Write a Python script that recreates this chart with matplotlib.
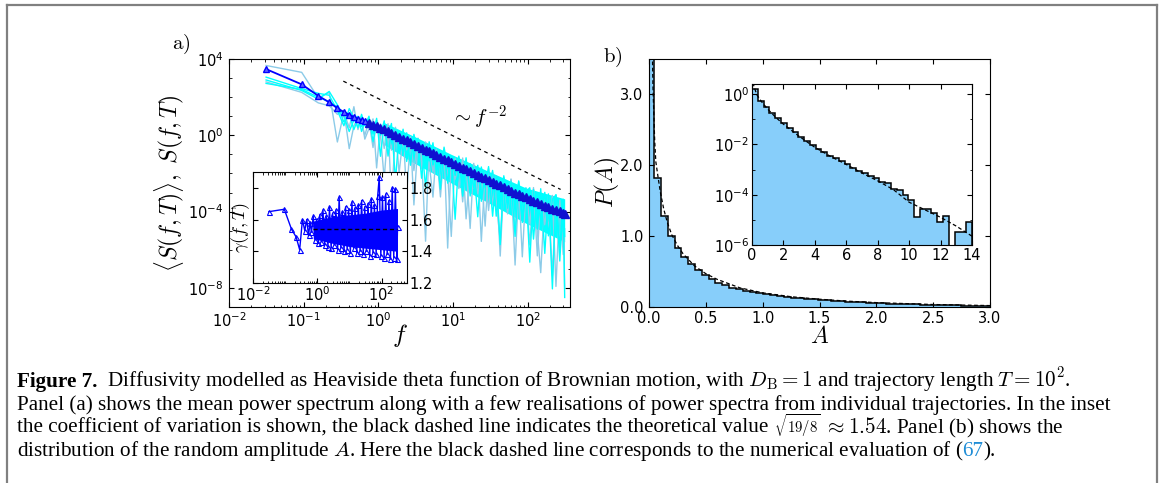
import numpy as np
import matplotlib
matplotlib.use('Agg')
import matplotlib.pyplot as plt
from matplotlib.lines import Line2D
from matplotlib.ticker import LogLocator, NullFormatter, FormatStrFormatter, FixedLocator

plt.rcParams['mathtext.fontset'] = 'cm'
plt.rcParams['xtick.direction'] = 'in'
plt.rcParams['ytick.direction'] = 'in'
plt.rcParams['xtick.top'] = True
plt.rcParams['ytick.right'] = True
plt.rcParams['xtick.major.size'] = 3.5
plt.rcParams['ytick.major.size'] = 3.5
plt.rcParams['xtick.minor.size'] = 1.8
plt.rcParams['ytick.minor.size'] = 1.8
plt.rcParams['font.size'] = 10.5

# ---------------- panel a: power spectra ----------------
f_grid = [0.0314, 0.0942, 0.157, 0.220, 0.283, 0.346, 0.408, 0.471, 0.534, 0.597, 0.660,
          0.75, 0.85, 0.95, 1.07, 1.2, 1.35, 1.5, 1.7, 1.9, 2.15,
          2.4, 2.7, 3.0, 3.4, 3.8, 4.3, 4.8, 5.4, 6.0, 6.8,
          7.6, 8.5, 9.5, 10.7, 12, 13.5, 15, 17, 19, 21.5,
          24, 27, 30, 34, 38, 43, 48, 54, 60, 68,
          76, 85, 95, 107, 120, 135, 150, 170, 190, 215,
          240, 270, 300, 314]
# log10 of the mean spectrum <S(f,T)>
mean_log10 = [3.47, 2.67, 2.07, 1.73, 1.42, 1.22, 1.08, 0.97, 0.88, 0.80, 0.73,
              0.65, 0.56, 0.49, 0.40, 0.31, 0.21, 0.12, 0.02, -0.08, -0.18,
              -0.27, -0.37, -0.45, -0.56, -0.65, -0.75, -0.84, -0.94, -1.03, -1.13,
              -1.22, -1.31, -1.40, -1.50, -1.59, -1.69, -1.78, -1.88, -1.97, -2.07,
              -2.16, -2.26, -2.34, -2.44, -2.54, -2.63, -2.72, -2.82, -2.90, -3.00,
              -3.09, -3.17, -3.26, -3.35, -3.44, -3.52, -3.60, -3.69, -3.77, -3.85,
              -3.92, -3.99, -4.05, -4.10]
n_low = 11
# single realisations, log10 S at the first 11 frequencies
real1_low = [3.66, 3.30, 1.95, 2.25, -0.35, 1.20, 0.40, 1.50, 0.30, 0.90, -0.20]
real2_low = [3.05, 2.45, 2.20, 2.10, 1.30, 0.50, 1.40, 0.90, 0.40, 1.10, 0.50]
real3_low = [2.90, 2.35, 1.90, 2.30, 1.60, 1.00, 0.20, 0.80, 1.00, 0.20, 0.70]
real4_low = [2.80, 2.25, 1.70, 1.55, 1.10, 1.30, -0.70, 0.50, 0.90, 0.60, 0.00]
real5_low = [2.72, 2.40, 2.00, 1.75, 1.50, 0.70, 1.10, 0.30, 0.85, 0.45, 0.75]
# dense part: deviation from the mean (decades)
real1_dev = [-0.3, 0.3, -2.2, 0.2, -1.0, 0.4, -3.5, 0.1, -0.6, 0.3,
             -2.8, 0.2, -1.4, 0.4, -0.5, -4.8, 0.3, -1.0, 0.2, -2.1,
             0.4, -0.7, -3.9, 0.3, -1.2, 0.5, -2.6, 0.2, -0.8, 0.4,
             -3.4, 0.3, -1.6, 0.5, -0.9, -2.9, 0.4, -1.3, 0.6, -3.8,
             0.3, -1.0, 0.5, -2.4, 0.6, -1.5, -3.6, 0.5, -1.1, 0.7,
             -4.0, 0.6, -2.2, -0.8]
real2_dev = [0.35, -0.9, 0.2, -0.4, 0.45, -1.3, 0.1, 0.3, -0.7, 0.5,
             -1.1, 0.2, -0.3, 0.4, -1.6, 0.3, -0.5, 0.55, -0.9, 0.1,
             0.45, -1.2, 0.3, -0.6, 0.5, -1.5, 0.2, 0.4, -0.8, 0.5,
             -1.3, 0.3, -0.4, 0.6, -1.7, 0.2, 0.5, -1.0, 0.4, -0.6,
             0.65, -1.4, 0.3, 0.6, -2.0, 0.4, -0.9, 0.7, -1.5, 0.5,
             0.8, -2.6, 0.6, -1.2]
real3_dev = [0.2, -0.5, 0.4, -1.5, 0.3, -0.2, 0.5, -2.4, 0.2, -0.8,
             0.4, -1.2, 0.5, -0.3, 0.3, -2.0, 0.5, -0.6, 0.2, -1.7,
             0.6, -0.4, 0.3, -2.9, 0.4, -0.9, 0.6, -1.3, 0.3, -2.2,
             0.5, -0.5, 0.7, -1.8, 0.4, -3.1, 0.6, -0.7, 0.5, -2.3,
             0.7, -1.1, 0.5, -3.3, 0.6, -1.4, 0.8, -2.5, 0.7, -4.2,
             0.8, -1.9, 0.7, -4.4]
real4_dev = [0.1, -1.2, 0.3, -0.4, -2.6, 0.2, -0.9, 0.4, -1.9, 0.1,
             -0.5, 0.3, -3.2, 0.2, -1.1, 0.4, -0.6, -2.3, 0.3, -1.4,
             0.5, -4.6, 0.2, -0.8, 0.4, -1.8, 0.3, -3.0, 0.5, -1.0,
             0.2, -2.5, 0.6, -1.2, 0.4, -3.7, 0.3, -0.9, 0.6, -2.0,
             0.5, -3.2, 0.4, -1.3, 0.7, -2.8, 0.5, -1.0, 0.6, -3.5,
             0.7, -1.6, 0.5, -3.9]
# densely overlapping realisations: band limits (log10)
f_band = [1.2, 3.0, 9.5, 30, 95, 314]
band_hi_log10 = [0.66, -0.05, -1.00, -1.89, -2.76, -3.33]
band_lo_log10 = [-0.49, -1.45, -2.50, -3.54, -4.61, -5.58]
# ~ f^-2 guide
f_guide = [0.34, 277]
S_guide = [690, 1.45e-3]

# inset a: coefficient of variation
gamma = [1.65, 1.665, 1.54, 1.49, 1.41, 1.60, 1.53, 1.60, 1.50, 1.58, 1.52,
         1.62, 1.47, 1.60, 1.45, 1.63, 1.46, 1.66, 1.44, 1.62, 1.43,
         1.68, 1.42, 1.64, 1.44, 1.66, 1.41, 1.74, 1.42, 1.65, 1.40,
         1.68, 1.41, 1.66, 1.39, 1.71, 1.42, 1.67, 1.39, 1.69, 1.40,
         1.72, 1.38, 1.68, 1.40, 1.70, 1.37, 1.73, 1.39, 1.69, 1.38,
         1.75, 1.87, 1.37, 1.74, 1.36, 1.76, 1.38, 1.72, 1.35, 1.80,
         1.36, 1.79, 1.35, 1.55]
# densely filled part of the inset
f_gband = [0.75, 3, 10, 30, 100, 314]
gband_lo = [1.48, 1.45, 1.43, 1.42, 1.41, 1.40]
gband_hi = [1.59, 1.62, 1.63, 1.64, 1.66, 1.67]
gamma_theory = 1.54
f_theory = [0.75, 300]

# ---------------- panel b: amplitude distribution ----------------
bin_start, bin_w = -0.015, 0.06
P_main = [4.6, 1.82, 1.28, 1.00, 0.83, 0.70, 0.61, 0.52, 0.45, 0.39,
          0.34, 0.305, 0.275, 0.25, 0.23, 0.212, 0.196, 0.182, 0.168, 0.155,
          0.144, 0.134, 0.125, 0.116, 0.112, 0.105, 0.097, 0.090, 0.083, 0.077,
          0.071, 0.066, 0.061, 0.057, 0.053, 0.049, 0.045, 0.042, 0.039, 0.036,
          0.033, 0.031, 0.029, 0.027, 0.025, 0.023, 0.021, 0.020, 0.018, 0.017,
          0.016]
A_curve = [0.012, 0.02, 0.025, 0.035, 0.05, 0.06, 0.08, 0.1, 0.13, 0.16, 0.2, 0.25,
           0.3, 0.4, 0.5, 0.6, 0.8, 1.0, 1.25, 1.5, 1.75, 2.0, 2.5, 3.0]
P_curve = [5.0, 4.3, 4.0, 3.1, 2.35, 2.05, 1.83, 1.62, 1.38, 1.2, 1.02, 0.87,
           0.75, 0.58, 0.47, 0.39, 0.27, 0.2, 0.145, 0.11, 0.082, 0.062, 0.035, 0.02]

in_bins, in_max = 38, 14.0
P_inset = [1.65, 0.52, 0.30, 0.18, 0.11, 0.068, 0.045, 0.030, 0.020, 0.0135,
           9.1e-3, 6.6e-3, 4.8e-3, 3.6e-3, 2.8e-3, 2.1e-3, 1.6e-3, 1.17e-3, 8.9e-4, 7.1e-4,
           5.6e-4, 4.4e-4, 3.3e-4, 2.8e-4, 1.66e-4, 1.58e-4, 9.5e-5, 6.0e-5, 1.26e-5, 2.8e-5,
           2.8e-5, 1.8e-5, 8e-6, 1.4e-5, 0, 3.2e-6, 3.2e-6, 8e-6]
A_curve_in = [0.05, 0.3, 0.6, 1, 1.5, 2, 3, 4, 5, 6, 7, 8, 9, 10, 11, 12, 13, 14]
logP_curve_in = [0.45, -0.02, -0.3, -0.6, -0.92, -1.2, -1.68, -2.12, -2.48, -2.8,
                 -3.14, -3.45, -3.8, -4.3, -4.6, -4.9, -5.25, -5.65]

W, H = 1165, 483
fig = plt.figure(figsize=(W / 100, H / 100), dpi=100)


def box(l, r, t, b):
    return [l / W, 1 - b / H, (r - l) / W, (b - t) / H]


# ---- panel a ----
ax = fig.add_axes(box(229, 570, 59, 307))
f = np.array(f_grid)
mean = np.array(mean_log10)
sky, cyan, blue = '#8ccbe8', '#00ffff', '#0000ff'
ax.fill_between(f_band, 10 ** np.array(band_hi_log10), 10 ** np.array(band_lo_log10),
                color=cyan, lw=0, zorder=1)
for low, dev, col in [(real1_low, real1_dev, sky), (real4_low, real4_dev, sky),
                      (real2_low, real2_dev, cyan), (real3_low, real3_dev, cyan)]:
    y = np.concatenate([low, mean[n_low:] + np.array(dev)])
    ax.plot(f, 10 ** y, color=col, lw=1.0, zorder=2)
ax.plot(f[:n_low], 10 ** np.array(real5_low), color=cyan, lw=1.0, zorder=2)
ax.plot(f, 10 ** mean, color=blue, lw=1.3, zorder=3)
ax.plot(f[:n_low], 10 ** mean[:n_low], ls='none', marker='^', ms=5, mfc='#6060ff',
        mec=blue, mew=1.0, zorder=3)
ax.plot(f[n_low:], 10 ** mean[n_low:], ls='none', marker='^', ms=5.5, mfc='#1010d0',
        mec='#1010d0', mew=1.0, zorder=3)
ax.plot(f_guide, S_guide, color='k', ls=(0, (3, 3)), lw=0.9, zorder=3)
ax.text(22, 8, r'$\sim f^{-2}$', fontsize=15, ha='center', va='center')
ax.set_xscale('log')
ax.set_yscale('log')
ax.set_xlim(1e-2, 370)
ax.set_ylim(1e-9, 1e4)
ax.yaxis.set_major_locator(FixedLocator([1e-8, 1e-4, 1, 1e4]))
ax.yaxis.set_minor_locator(LogLocator(base=10, subs=[1.0], numticks=40))
ax.yaxis.set_minor_formatter(NullFormatter())
ax.xaxis.set_minor_locator(LogLocator(base=10, subs=np.arange(2, 10), numticks=40))
ax.xaxis.set_minor_formatter(NullFormatter())
ax.tick_params(axis='y', pad=4)
ax.tick_params(axis='x', pad=3)
ax.set_xlabel(r'$f$', fontsize=18)
ax.xaxis.set_label_coords(0.5, -0.06)
ax.set_ylabel(r'$\langle S(f,T)\rangle,\ S(f,T)$', fontsize=17)
ax.yaxis.set_label_coords(-0.125, 0.5)
fig.text(181 / W, 1 - 44 / H, r'$\mathrm{a)}$', fontsize=15, ha='center', va='center')

# inset a
axi = fig.add_axes(box(253, 407, 172, 283))
axi.fill_between(f_gband, gband_lo, gband_hi, color=blue, lw=0)
axi.plot(f, gamma, color=blue, lw=1.0, marker='^', ms=3.6, mfc='none', mew=0.8)
axi.plot(f_theory, [gamma_theory, gamma_theory], color='k', ls=(0, (3, 2)), lw=1.0)
axi.set_xscale('log')
axi.set_xlim(1e-2, 620)
axi.set_ylim(1.2, 1.9)
axi.xaxis.set_major_locator(FixedLocator([1e-2, 1, 1e2]))
axi.xaxis.set_minor_locator(LogLocator(base=10, subs=np.arange(1, 10), numticks=40))
axi.xaxis.set_minor_formatter(NullFormatter())
axi.set_yticks([1.2, 1.4, 1.6, 1.8])
axi.yaxis.set_major_formatter(FormatStrFormatter('%.1f'))
axi.tick_params(axis='y', labelleft=False, labelright=True, pad=2)
axi.tick_params(axis='x', pad=2)
axi.set_ylabel(r'$\gamma(f,T)$', fontsize=13, labelpad=1)

# ---- panel b ----
bx = fig.add_axes(box(649, 990, 59, 307))
edges = bin_start + bin_w * np.arange(len(P_main) + 1)
bx.stairs(P_main, edges, fill=True, color='#87cefa', lw=0)
bx.stairs(P_main, edges, color='k', lw=1.1)
bx.plot(A_curve, P_curve, color='k', ls=(0, (3, 2)), lw=0.9)
bx.set_xlim(0, 3.0)
bx.set_ylim(0, 3.5)
bx.set_xticks(np.arange(0, 3.01, 0.5))
bx.set_yticks([0, 1, 2, 3])
bx.xaxis.set_major_formatter(FormatStrFormatter('%.1f'))
bx.yaxis.set_major_formatter(FormatStrFormatter('%.1f'))
bx.tick_params(axis='y', pad=4)
bx.tick_params(axis='x', pad=3)
bx.set_xlabel(r'$A$', fontsize=17)
bx.xaxis.set_label_coords(0.5, -0.07)
bx.set_ylabel(r'$P(A)$', fontsize=17)
bx.yaxis.set_label_coords(-0.079, 0.5)
fig.text(613 / W, 1 - 57 / H, r'$\mathrm{b)}$', fontsize=15, ha='center', va='center')

# inset b
bxi = fig.add_axes(box(752, 972, 84, 245))
edges_in = np.linspace(0, in_max, in_bins + 1)
vals_in = np.maximum(np.array(P_inset), 1e-9)
bxi.stairs(vals_in, edges_in, fill=True, color='#87cefa', lw=0, baseline=1e-9)
bxi.stairs(vals_in, edges_in, color='k', lw=1.1, baseline=1e-9)
bxi.plot(A_curve_in, 10 ** np.array(logP_curve_in), color='k', ls=(0, (3, 2)), lw=0.9)
bxi.set_yscale('log')
bxi.set_xlim(0, 14)
bxi.set_ylim(1e-6, 2.5)
bxi.set_xticks(np.arange(0, 15, 2))
bxi.yaxis.set_major_locator(FixedLocator([1e-6, 1e-4, 1e-2, 1]))
bxi.yaxis.set_minor_locator(LogLocator(base=10, subs=[1.0], numticks=40))
bxi.yaxis.set_minor_formatter(NullFormatter())
bxi.tick_params(axis='both', pad=2)

# ---- frame ----
gray = '#808080'
for xs, ys in [([7, 1157], [5, 5]), ([7, 7], [5, 483]), ([1157, 1157], [5, 483])]:
    fig.add_artist(Line2D([x / W for x in xs], [1 - y / H for y in ys], color=gray, lw=1.6))

# ---- caption ----
renderer = fig.canvas.get_renderer()
cap_font = dict(family='Liberation Serif')


def width(s, size, **kw):
    t = fig.text(0, 0, '|' + s + '|', fontsize=size, **cap_font, **kw)
    w1 = t.get_window_extent(renderer).width
    t.set_text('||')
    w2 = t.get_window_extent(renderer).width
    t.remove()
    return w1 - w2


lines = [
    [('Figure 7.', dict(fontweight='bold')),
     ('  Diffusivity modelled as Heaviside theta function of Brownian motion, with '
      r'$D_\mathrm{B}=1$ and trajectory length $T=10^2$.', {})],
    [('Panel (a) shows the mean power spectrum along with a few realisations of power '
      'spectra from individual trajectories. In the inset', {})],
    [('the coefficient of variation is shown, the black dashed line indicates the '
      'theoretical value ', {}),
     (r'$\sqrt{19/8}$', dict(scale=0.7)),
     (r' $\approx 1.54$. Panel (b) shows the', {})],
    [('distribution of the random amplitude $A$. Here the black dashed line corresponds '
      'to the numerical evaluation of (', {}),
     ('67', dict(color='#1f8dd6')), (').', {})],
]

ref = sum(width(s, 10, **{k: v for k, v in kw.items() if k != 'scale'})
          for s, kw in lines[1])
size = 10 * 1093 / ref
for i, pieces in enumerate(lines):
    x = 17
    y = 387 + 23 * i
    for s, kw in pieces:
        kw = dict(kw)
        fs = size * kw.pop('scale', 1.0)
        fig.text(x / W, 1 - y / H, s, fontsize=fs, ha='left', va='baseline',
                 **cap_font, **kw)
        x += width(s, fs, **kw)

fig.savefig('out.png', dpi=100)
